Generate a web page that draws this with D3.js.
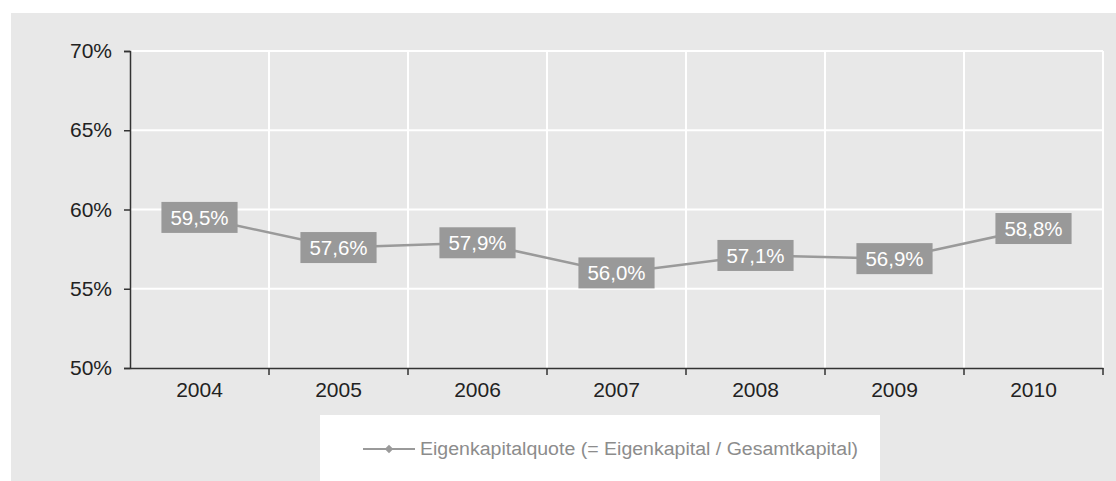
<!DOCTYPE html>
<html>
<head>
<meta charset="utf-8">
<script src="https://cdn.jsdelivr.net/npm/d3@7"></script>
<style>
  body { margin: 0; background: #fff; }
  text { font-family: "Liberation Sans", Arial, sans-serif; }
</style>
</head>
<body>
<div id="chart"></div>
<script>
var years = ["2004", "2005", "2006", "2007", "2008", "2009", "2010"];
var quote = [59.5, 57.6, 57.9, 56.0, 57.1, 56.9, 58.8];
var yTicks = [50, 55, 60, 65, 70];
var legendLabel = "Eigenkapitalquote (= Eigenkapital / Gesamtkapital)";

var width = 1116,
    height = 481;

var plot = { left: 130, right: 1103, top: 51, bottom: 368 };

var svg = d3.select("#chart")
    .append("svg")
    .attr("width", width)
    .attr("height", height);

svg.append("rect")
    .attr("x", 11).attr("y", 13)
    .attr("width", width - 11).attr("height", height - 13)
    .attr("fill", "#e8e8e8");

var x = d3.scaleBand().domain(years).range([plot.left, plot.right]);
var y = d3.scaleLinear().domain([50, 70]).range([plot.bottom, plot.top]);

var fmt = function (v) { return v.toFixed(1).replace(".", ",") + "%"; };

// grid
svg.append("g").selectAll("line.h")
    .data(yTicks.slice(1))
    .enter().append("line")
    .attr("x1", plot.left).attr("x2", plot.right)
    .attr("y1", y).attr("y2", y)
    .attr("stroke", "#fff").attr("stroke-width", 2);

svg.append("g").selectAll("line.v")
    .data(years.slice(1).concat(["end"]))
    .enter().append("line")
    .attr("x1", function (d) { return d === "end" ? plot.right : x(d); })
    .attr("x2", function (d) { return d === "end" ? plot.right : x(d); })
    .attr("y1", plot.top).attr("y2", plot.bottom)
    .attr("stroke", "#fff").attr("stroke-width", 2);

// y axis
var yAxis = svg.append("g")
    .attr("transform", "translate(" + plot.left + ",0)")
    .call(d3.axisLeft(y).tickValues(yTicks).tickSize(6).tickPadding(12)
        .tickFormat(function (d) { return d + "%"; }));
yAxis.select(".domain").attr("stroke", "#333").attr("stroke-width", 1.5);
yAxis.selectAll(".tick line").attr("stroke", "#333").attr("stroke-width", 1.5);
yAxis.selectAll("text").attr("font-size", 21).attr("fill", "#222")
    .attr("font-family", "Liberation Sans, Arial, sans-serif");

// x axis
var xAxis = svg.append("g")
    .attr("transform", "translate(0," + plot.bottom + ")")
    .call(d3.axisBottom(x).tickSize(0).tickPadding(14));
xAxis.select(".domain").attr("stroke", "#333").attr("stroke-width", 1.5);
xAxis.selectAll("text").attr("font-size", 21).attr("fill", "#222")
    .attr("font-family", "Liberation Sans, Arial, sans-serif");
xAxis.selectAll("line.sep")
    .data(years.slice(1).concat(["end"]))
    .enter().append("line")
    .attr("class", "sep")
    .attr("x1", function (d) { return d === "end" ? plot.right : x(d); })
    .attr("x2", function (d) { return d === "end" ? plot.right : x(d); })
    .attr("y1", 0).attr("y2", 7)
    .attr("stroke", "#333").attr("stroke-width", 1.5);

// line
var line = d3.line()
    .x(function (d, i) { return x(years[i]) + x.bandwidth() / 2; })
    .y(function (d) { return y(d); });

svg.append("path")
    .datum(quote)
    .attr("d", line)
    .attr("fill", "none")
    .attr("stroke", "#9a9a9a")
    .attr("stroke-width", 2.5);

// labels
var lab = svg.append("g").selectAll("g")
    .data(quote)
    .enter().append("g")
    .attr("transform", function (d, i) {
        return "translate(" + (x(years[i]) + x.bandwidth() / 2) + "," + y(d) + ")";
    });

lab.append("text")
    .attr("text-anchor", "middle")
    .attr("dy", "0.36em")
    .attr("font-size", 20.5)
    .attr("fill", "#fff")
    .text(fmt);

lab.each(function () {
    var g = d3.select(this);
    var bb = g.select("text").node().getBBox();
    g.insert("rect", "text")
        .attr("x", -bb.width / 2 - 9)
        .attr("y", -15.5)
        .attr("width", bb.width + 18)
        .attr("height", 31)
        .attr("fill", "#999");
});

// legend
var leg = svg.append("g");
leg.append("rect")
    .attr("x", 320).attr("y", 415)
    .attr("width", 560).attr("height", height - 415)
    .attr("fill", "#fff");
leg.append("line")
    .attr("x1", 363).attr("x2", 415)
    .attr("y1", 449).attr("y2", 449)
    .attr("stroke", "#9a9a9a").attr("stroke-width", 2);
leg.append("path")
    .attr("d", d3.symbol(d3.symbolSquare, 36)())
    .attr("transform", "translate(389,449) rotate(45)")
    .attr("fill", "#9a9a9a");
leg.append("text")
    .attr("x", 420).attr("y", 449)
    .attr("dy", "0.36em")
    .attr("font-size", 18)
    .attr("textLength", 438)
    .attr("lengthAdjust", "spacingAndGlyphs")
    .attr("fill", "#8c8c8c")
    .text(legendLabel);
</script>
</body>
</html>
